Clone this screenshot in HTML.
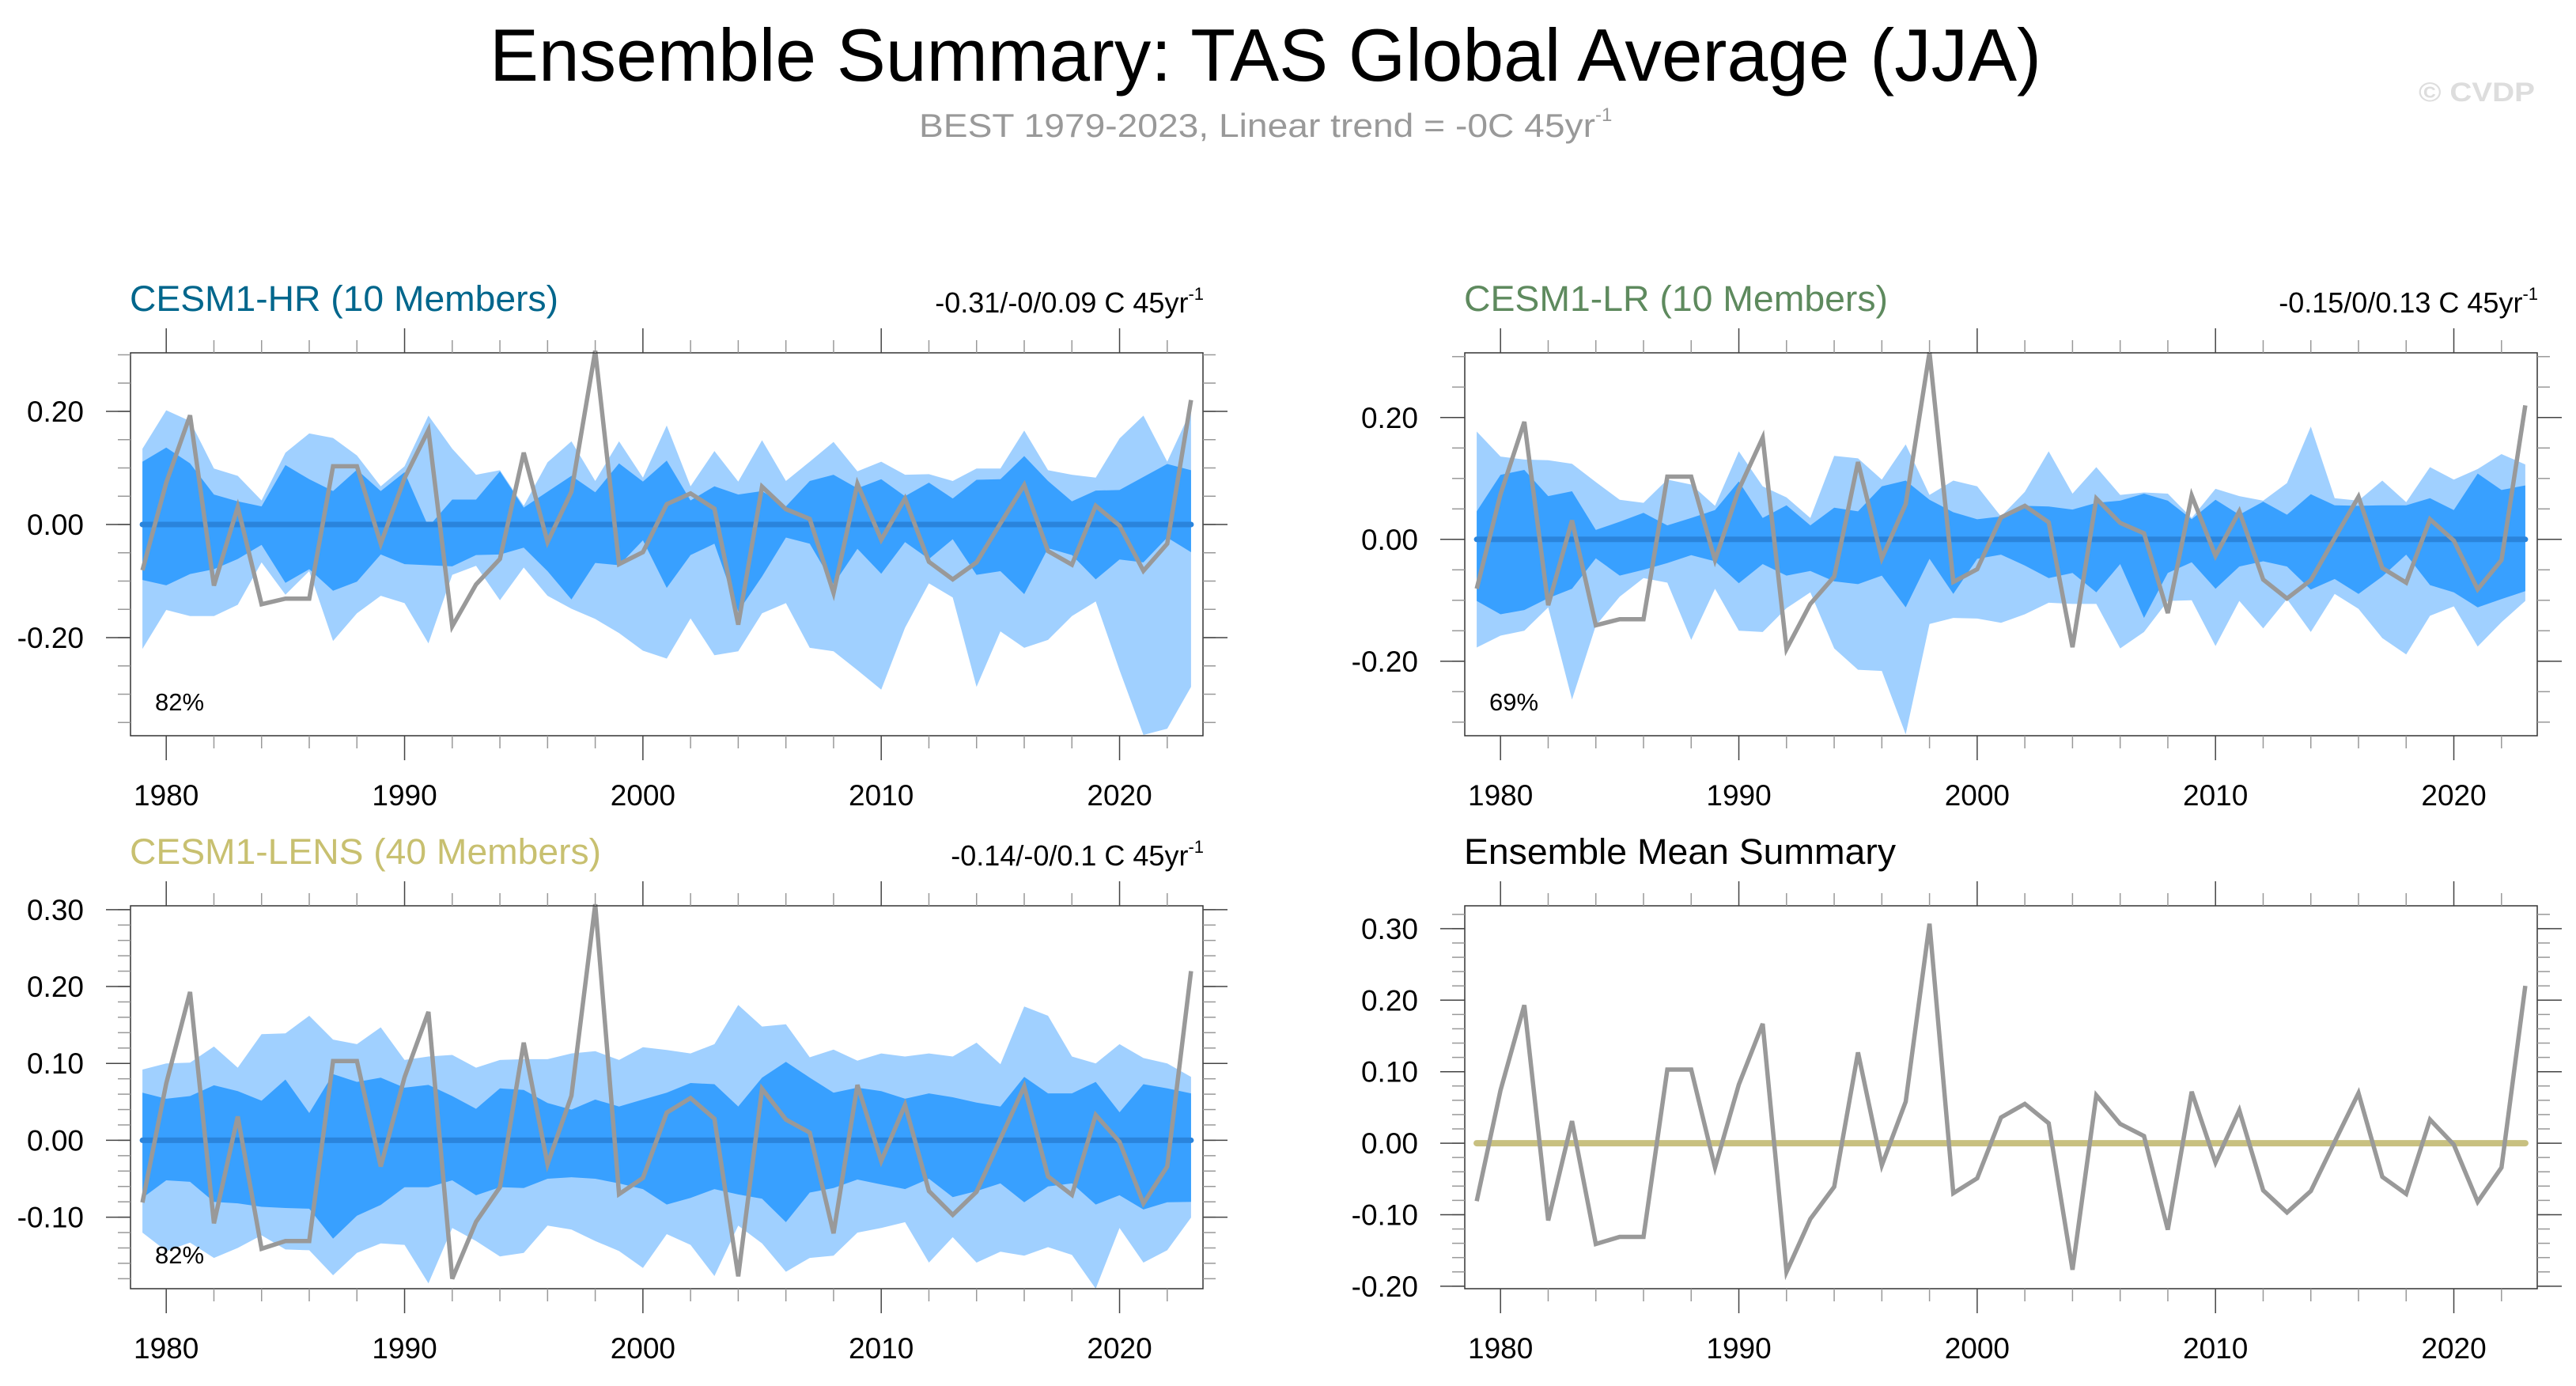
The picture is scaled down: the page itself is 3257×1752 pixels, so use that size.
<!DOCTYPE html>
<html><head><meta charset="utf-8"><title>Ensemble Summary</title>
<style>
html,body{margin:0;padding:0;background:#fff;}
svg{display:block;font-family:"Liberation Sans",sans-serif;}
</style></head>
<body>
<svg id="chart" width="3257" height="1752" viewBox="0 0 3257 1752" xmlns="http://www.w3.org/2000/svg">
<text x="619" y="102" font-size="94" textLength="1962" lengthAdjust="spacingAndGlyphs" fill="#000">Ensemble Summary: TAS Global Average (JJA)</text>
<text x="1162" y="173" font-size="42" fill="#999"><tspan textLength="855" lengthAdjust="spacingAndGlyphs">BEST 1979-2023, Linear trend = -0C 45yr</tspan><tspan font-size="24" dy="-20">-1</tspan></text>
<text x="3058" y="128" font-size="34" font-weight="bold" fill="#ddd" textLength="147" lengthAdjust="spacingAndGlyphs">© CVDP</text>
<g id="plots"></g>
</svg>
<script>
const years = [];
for (let y = 1979; y <= 2023; y++) years.push(y);
const obs = [-0.081,0.074,0.193,-0.108,0.031,-0.141,-0.131,-0.131,0.103,0.103,-0.034,0.082,0.167,-0.180,-0.106,-0.061,0.127,-0.031,0.058,0.307,-0.070,-0.049,0.036,0.055,0.028,-0.177,0.067,0.027,0.010,-0.121,0.072,-0.027,0.046,-0.066,-0.097,-0.067,0.002,0.070,-0.047,-0.071,0.033,-0.002,-0.082,-0.034,0.220];

const hrOuterHi = [0.134,0.202,0.183,0.099,0.086,0.0425,0.127,0.161,0.153,0.122,0.0675,0.103,0.1925,0.134,0.088,0.096,0.033,0.11,0.147,0.077,0.147,0.083,0.175,0.0675,0.13,0.076,0.149,0.077,0.111,0.146,0.094,0.111,0.088,0.089,0.077,0.099,0.099,0.166,0.096,0.088,0.083,0.152,0.1925,0.111,0.202];
const hrInnerHi = [0.111,0.136,0.108,0.053,0.041,0.032,0.105,0.08,0.059,0.097,0.059,0.0925,-0.004,0.044,0.044,0.094,0.03,0.058,0.086,0.057,0.108,0.076,0.113,0.0425,0.0675,0.053,0.059,0.032,0.077,0.088,0.064,0.08,0.05,0.074,0.046,0.079,0.08,0.121,0.077,0.041,0.06,0.061,0.084,0.107,0.096];
const hrInnerLo = [-0.098,-0.1075,-0.0875,-0.079,-0.061,-0.036,-0.103,-0.079,-0.117,-0.101,-0.053,-0.07,-0.072,-0.074,-0.054,-0.053,-0.041,-0.0825,-0.1325,-0.068,-0.072,-0.028,-0.112,-0.054,-0.034,-0.154,-0.092,-0.023,-0.034,-0.106,-0.043,-0.087,-0.031,-0.061,-0.026,-0.089,-0.0825,-0.123,-0.042,-0.054,-0.097,-0.062,-0.067,-0.023,-0.049];
const hrOuterLo = [-0.22,-0.151,-0.162,-0.162,-0.142,-0.067,-0.124,-0.0825,-0.206,-0.157,-0.126,-0.139,-0.21,-0.089,-0.073,-0.134,-0.076,-0.126,-0.149,-0.167,-0.192,-0.223,-0.237,-0.166,-0.231,-0.224,-0.157,-0.139,-0.218,-0.224,-0.2575,-0.292,-0.1825,-0.104,-0.129,-0.287,-0.189,-0.218,-0.204,-0.162,-0.136,-0.2575,-0.372,-0.361,-0.287];

const lrOuterHi = [0.177,0.136,0.131,0.13,0.124,0.094,0.065,0.06,0.098,0.09,0.055,0.1445,0.087,0.069,0.035,0.137,0.133,0.098,0.156,0.073,0.0965,0.087,0.0375,0.078,0.1445,0.075,0.1185,0.073,0.077,0.075,0.035,0.083,0.071,0.0635,0.0925,0.185,0.0675,0.0635,0.0965,0.061,0.1185,0.098,0.1155,0.14,0.123];
const lrInnerHi = [0.046,0.106,0.114,0.071,0.079,0.0155,0.029,0.0435,0.023,0.035,0.048,0.095,0.035,0.056,0.023,0.052,0.046,0.087,0.0965,0.065,0.0445,0.033,0.0375,0.055,0.054,0.049,0.06,0.0635,0.075,0.0635,0.033,0.065,0.0405,0.062,0.0405,0.074,0.056,0.055,0.056,0.056,0.0675,0.048,0.108,0.081,0.0885];
const lrInnerLo = [-0.101,-0.123,-0.116,-0.0965,-0.081,-0.031,-0.0595,-0.05,-0.039,-0.026,-0.036,-0.072,-0.0405,-0.0595,-0.052,-0.069,-0.0735,-0.0595,-0.1115,-0.032,-0.0895,-0.032,-0.025,-0.043,-0.0635,-0.055,-0.087,-0.0405,-0.129,-0.055,-0.0375,-0.081,-0.0445,-0.036,-0.0445,-0.0825,-0.065,-0.0895,-0.061,-0.025,-0.075,-0.087,-0.1115,-0.098,-0.085];
const lrOuterLo = [-0.1775,-0.158,-0.15,-0.1115,-0.263,-0.1415,-0.094,-0.0635,-0.071,-0.165,-0.081,-0.15,-0.152,-0.113,-0.087,-0.179,-0.214,-0.216,-0.32,-0.139,-0.129,-0.13,-0.137,-0.123,-0.104,-0.106,-0.106,-0.179,-0.152,-0.101,-0.1,-0.175,-0.101,-0.146,-0.098,-0.152,-0.0895,-0.114,-0.162,-0.189,-0.1255,-0.11,-0.176,-0.136,-0.101];

const lensOuterHi = [0.092,0.1,0.101,0.122,0.0945,0.138,0.139,0.162,0.131,0.125,0.147,0.1045,0.109,0.111,0.0945,0.1045,0.1055,0.1055,0.113,0.116,0.1045,0.121,0.1175,0.113,0.125,0.176,0.148,0.151,0.108,0.118,0.1035,0.113,0.109,0.113,0.109,0.127,0.099,0.174,0.162,0.109,0.1,0.125,0.107,0.1,0.0825];
const lensInnerHi = [0.062,0.054,0.0575,0.0715,0.064,0.0515,0.079,0.0355,0.086,0.076,0.0815,0.0685,0.072,0.0575,0.041,0.0675,0.0655,0.0485,0.04,0.053,0.044,0.053,0.062,0.0745,0.073,0.044,0.0815,0.102,0.0815,0.062,0.0685,0.064,0.054,0.061,0.056,0.049,0.044,0.0825,0.061,0.061,0.076,0.0365,0.073,0.0675,0.061];
const lensInnerLo = [-0.075,-0.052,-0.054,-0.08,-0.082,-0.0865,-0.088,-0.089,-0.128,-0.098,-0.084,-0.061,-0.061,-0.052,-0.0715,-0.061,-0.062,-0.05,-0.048,-0.05,-0.056,-0.0635,-0.0835,-0.075,-0.0635,-0.0705,-0.076,-0.1065,-0.068,-0.062,-0.051,-0.0575,-0.0635,-0.05,-0.074,-0.066,-0.056,-0.0805,-0.06,-0.056,-0.0835,-0.0715,-0.09,-0.0805,-0.08];
const lensOuterLo = [-0.12,-0.144,-0.133,-0.153,-0.14,-0.1235,-0.142,-0.143,-0.1755,-0.1465,-0.134,-0.136,-0.186,-0.114,-0.131,-0.151,-0.1465,-0.111,-0.116,-0.131,-0.144,-0.166,-0.122,-0.136,-0.1765,-0.111,-0.134,-0.171,-0.153,-0.15,-0.12,-0.114,-0.1065,-0.159,-0.126,-0.159,-0.145,-0.15,-0.139,-0.149,-0.193,-0.114,-0.159,-0.143,-0.1005];

const xTickYears = [1980,1990,2000,2010,2020];
const yTicksA = [-0.2,0,0.2];
const yTickLabelsA = ["-0.20","0.00","0.20"];
const yTicksB = [-0.2,-0.1,0,0.1,0.2,0.3];
const yTickLabelsB = ["-0.20","-0.10","0.00","0.10","0.20","0.30"];
const titles = ["CESM1-HR (10 Members)","CESM1-LR (10 Members)","CESM1-LENS (40 Members)","Ensemble Mean Summary"];
const titleWidths = [542,536,596,546];
const trendText = ["-0.31/-0/0.09 C 45yr","-0.15/0/0.13 C 45yr","-0.14/-0/0.1 C 45yr",""];
const pctText = ["82%","69%","82%",""];

const NS = "http://www.w3.org/2000/svg";
const root = document.getElementById('plots');
function el(tag, attrs, parent) {
  const e = document.createElementNS(NS, tag);
  for (const k in attrs) e.setAttribute(k, attrs[k]);
  (parent || root).appendChild(e);
  return e;
}

const panels = [
  {x0:165,x1:1521,y0:446,y1:930,ymin:-0.3734,ymax:0.3035,ticks:yTicksA,labels:yTickLabelsA,minor:0.05,title:0,color:"#00668c",bands:[hrOuterHi,hrInnerHi,hrInnerLo,hrOuterLo],name:"cesm1-hr"},
  {x0:1852,x1:3208,y0:446,y1:930,ymin:-0.3223,ymax:0.3062,ticks:yTicksA,labels:yTickLabelsA,minor:0.05,title:1,color:"#5e8a5e",bands:[lrOuterHi,lrInnerHi,lrInnerLo,lrOuterLo],name:"cesm1-lr"},
  {x0:165,x1:1521,y0:1145,y1:1629,ymin:-0.193,ymax:0.305,ticks:yTicksB.slice(1),labels:yTickLabelsB.slice(1),minor:0.02,title:2,color:"#c8c070",bands:[lensOuterHi,lensInnerHi,lensInnerLo,lensOuterLo],name:"cesm1-lens"},
  {x0:1852,x1:3208,y0:1145,y1:1629,ymin:-0.2035,ymax:0.332,ticks:yTicksB,labels:yTickLabelsB,minor:0.02,title:3,color:"#000",bands:null,name:"ensemble-mean"}
];

panels.forEach((p) => {
  const g = el('g', {});
  
  
  const xs = (yr) => p.x0 + (yr - 1978.5) / 45 * (p.x1 - p.x0);
  const ys = (v) => p.y1 - (v - p.ymin) / (p.ymax - p.ymin) * (p.y1 - p.y0);

  const t = el('text', {x: p.x0 - 1, y: p.y0 - 53, 'font-size': 45, fill: p.color, textLength: titleWidths[p.title], lengthAdjust: 'spacingAndGlyphs'}, g);
  
  
  t.textContent = titles[p.title];
  if (trendText[p.title]) {
    const tr = el('text', {x: p.x1 + 1, y: p.y0 - 51, 'font-size': 36, fill: '#000', 'text-anchor': 'end'}, g);
    
    
    const s1 = el('tspan', {}, tr); s1.textContent = trendText[p.title];
    const s2 = el('tspan', {'font-size': 22, dy: -16}, tr); s2.textContent = '-1';
  }

  if (p.bands) {
    const [oh, ih, il, ol] = p.bands;
    const poly = (hi, lo) => {
      let pts = years.map((y, i) => xs(y).toFixed(1) + ',' + ys(hi[i]).toFixed(1));
      for (let i = years.length - 1; i >= 0; i--) pts.push(xs(years[i]).toFixed(1) + ',' + ys(lo[i]).toFixed(1));
      return pts.join(' ');
    };
    const lb = el('polygon', {points: poly(oh, ol), fill: '#a0d0ff'}, g);
    
    
    const db = el('polygon', {points: poly(ih, il), fill: '#38a0ff'}, g);
    
    
  }

  const zl = el('line', {x1: xs(1979), x2: xs(2023), y1: ys(0), y2: ys(0), stroke: p.bands ? '#2a84dc' : '#c8c080', 'stroke-width': p.bands ? 7 : 8, 'stroke-linecap': 'round'}, g);
  
  

  const ol2 = el('polyline', {points: years.map((y, i) => xs(y).toFixed(1) + ',' + ys(obs[i]).toFixed(1)).join(' '), fill: 'none', stroke: '#999', 'stroke-width': 5.5, 'stroke-linejoin': 'miter'}, g);
  
  

  const fr = el('rect', {x: p.x0, y: p.y0, width: p.x1 - p.x0, height: p.y1 - p.y0, fill: 'none', stroke: '#333', 'stroke-width': 1.5}, g);
  
  

  for (let yr = 1980; yr <= 2022; yr += 2) {
    const major = yr % 10 === 0;
    const len = major ? 31 : 16;
    const c = major ? '#444' : '#999';
    el('line', {x1: xs(yr), x2: xs(yr), y1: p.y0, y2: p.y0 - len, stroke: c, 'stroke-width': 1.5}, g);
    el('line', {x1: xs(yr), x2: xs(yr), y1: p.y1, y2: p.y1 + len, stroke: c, 'stroke-width': 1.5}, g);
  }
  xTickYears.forEach((yr) => {
    const tl = el('text', {x: xs(yr), y: p.y1 + 88, 'font-size': 37, 'text-anchor': 'middle', fill: '#000'}, g);
    
    
    tl.textContent = String(yr);
  });

  const start = Math.ceil(p.ymin / p.minor - 1e-6);
  for (let k = start; k * p.minor <= p.ymax + 1e-9; k++) {
    const v = k * p.minor;
    el('line', {x1: p.x0, x2: p.x0 - 16, y1: ys(v), y2: ys(v), stroke: '#999', 'stroke-width': 1.5}, g);
    el('line', {x1: p.x1, x2: p.x1 + 16, y1: ys(v), y2: ys(v), stroke: '#999', 'stroke-width': 1.5}, g);
  }
  p.ticks.forEach((v, i) => {
    el('line', {x1: p.x0, x2: p.x0 - 31, y1: ys(v), y2: ys(v), stroke: '#444', 'stroke-width': 1.5}, g);
    el('line', {x1: p.x1, x2: p.x1 + 31, y1: ys(v), y2: ys(v), stroke: '#444', 'stroke-width': 1.5}, g);
    const yl = el('text', {x: p.x0 - 59, y: ys(v) + 13, 'font-size': 37, 'text-anchor': 'end', fill: '#000'}, g);
    
    
    yl.textContent = p.labels[i];
  });

  if (pctText[p.title]) {
    const pc = el('text', {x: p.x0 + 31, y: p.y1 - 32, 'font-size': 31, fill: '#000'}, g);
    
    
    pc.textContent = pctText[p.title];
  }
});
</script>
</body></html>
